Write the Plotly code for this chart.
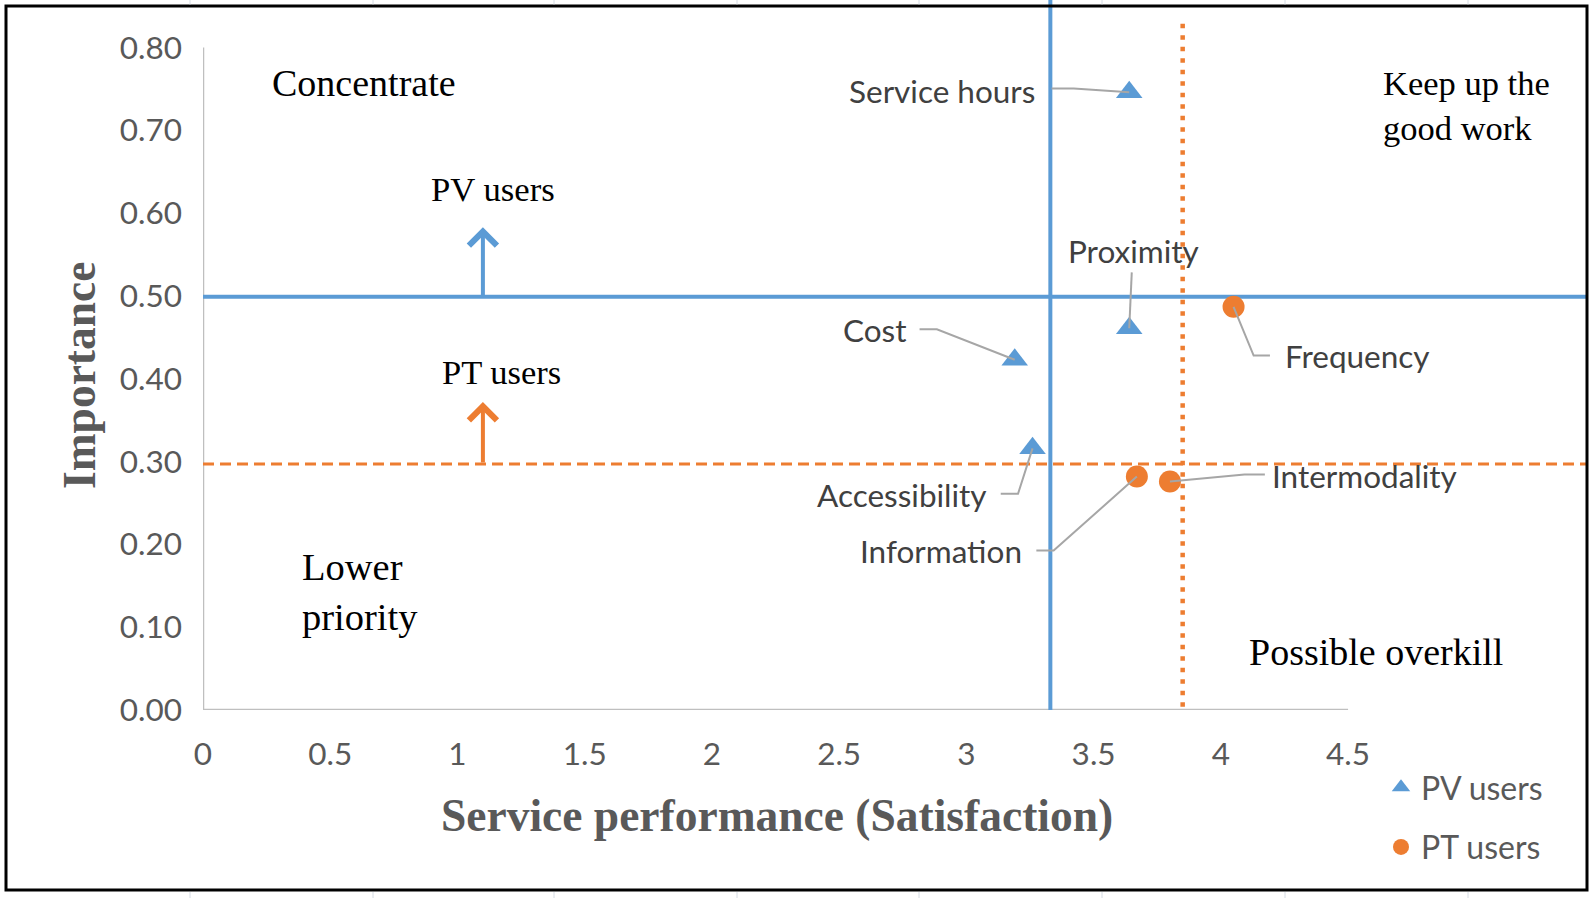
import plotly.graph_objects as go

# --- data ------------------------------------------------------------------
pv_items = ['Service hours', 'Proximity', 'Cost', 'Accessibility']
pv_satisfaction = [3.64, 3.64, 3.19, 3.26]
pv_importance = [0.746, 0.461, 0.423, 0.316]

pt_items = ['Frequency', 'Information', 'Intermodality']
pt_satisfaction = [4.05, 3.67, 3.80]
pt_importance = [0.487, 0.282, 0.276]

# mean lines splitting the quadrants
pv_mean_satisfaction = 3.33
pv_mean_importance = 0.499
pt_mean_satisfaction = 3.85
pt_mean_importance = 0.297

x_ticks = [0, 0.5, 1, 1.5, 2, 2.5, 3, 3.5, 4, 4.5]
x_tick_text = ['0', '0.5', '1', '1.5', '2', '2.5', '3', '3.5', '4', '4.5']
y_ticks = [0, 0.1, 0.2, 0.3, 0.4, 0.5, 0.6, 0.7, 0.8]
y_tick_text = ['0.00', '0.10', '0.20', '0.30', '0.40', '0.50', '0.60', '0.70', '0.80']

BLUE = '#5B9BD5'
ORANGE = '#ED7D31'
GREY_TXT = '#595959'
LEADER = '#A6A6A6'

# pixel layout of the page
W, H = 1593, 898
ML, MR, MT, MB = 203, 6, 0, 188
X_MAX = 5.439   # right frame edge in data units
Y_MAX = 0.8575  # top of page in data units

# label placement (data coords) and leader-line bends
label_pos = {
    'Service hours': (3.279, 0.748, 'right'),
    'Proximity': (3.658, 0.5545, 'center'),
    'Cost': (2.774, 0.4587, 'right'),
    'Accessibility': (3.089, 0.260, 'right'),
    'Information': (3.227, 0.1925, 'right'),
    'Intermodality': (4.193, 0.2832, 'left'),
    'Frequency': (4.245, 0.428, 'left'),
}
leader_bends = {
    'Service hours': [(3.335, 0.7507), (3.422, 0.7507)],
    'Proximity': [(3.650, 0.5286)],
    'Cost': [(2.816, 0.4599), (2.884, 0.4599)],
    'Accessibility': [(3.135, 0.2612), (3.203, 0.2612)],
    'Information': [(3.275, 0.1925), (3.343, 0.1925)],
    'Intermodality': [(4.173, 0.2845), (4.093, 0.2845)],
    'Frequency': [(4.193, 0.428), (4.129, 0.428)],
}


def px_x(p):
    return (p - ML) / (W - ML - MR)


def px_y(p):
    return (H - MB - p) / (H - MB - MT)


fig = go.Figure()

# quadrant lines
fig.add_trace(go.Scatter(x=[pv_mean_satisfaction, pv_mean_satisfaction], y=[0, Y_MAX],
                         mode='lines', line=dict(color=BLUE, width=4), showlegend=False, hoverinfo='skip'))
fig.add_trace(go.Scatter(x=[0, X_MAX], y=[pv_mean_importance, pv_mean_importance],
                         mode='lines', line=dict(color=BLUE, width=4), showlegend=False, hoverinfo='skip'))
fig.add_trace(go.Scatter(x=[0, X_MAX], y=[pt_mean_importance, pt_mean_importance],
                         mode='lines', line=dict(color=ORANGE, width=3, dash='11px,6px'),
                         showlegend=False, hoverinfo='skip'))
fig.add_trace(go.Scatter(x=[pt_mean_satisfaction, pt_mean_satisfaction], y=[-0.01, 0.833],
                         mode='lines', line=dict(color=ORANGE, width=4.5, dash='4.5px,7px'),
                         showlegend=False, hoverinfo='skip'))

# points
fig.add_trace(go.Scatter(x=pv_satisfaction, y=pv_importance, mode='markers', name='PV users',
                         marker=dict(symbol='triangle-up', size=23, color=BLUE),
                         legendgroup='pv'))
fig.add_trace(go.Scatter(x=pt_satisfaction, y=pt_importance, mode='markers', name='PT users',
                         marker=dict(symbol='circle', size=22, color=ORANGE),
                         legendgroup='pt'))

# leader lines from labels to points
all_points = dict(zip(pv_items, zip(pv_satisfaction, pv_importance)))
all_points.update(dict(zip(pt_items, zip(pt_satisfaction, pt_importance))))
for name, bends in leader_bends.items():
    px_, py_ = all_points[name]
    xs = [b[0] for b in bends] + [px_]
    ys = [b[1] for b in bends] + [py_]
    fig.add_trace(go.Scatter(x=xs, y=ys, mode='lines', line=dict(color=LEADER, width=2),
                             showlegend=False, hoverinfo='skip'))

annotations = []
for name, (lx, ly, anchor) in label_pos.items():
    annotations.append(dict(x=lx, y=ly, text=name, showarrow=False, xanchor=anchor, yanchor='middle',
                            font=dict(family='Lato', size=31.5, color='#404040')))

serif = 'Liberation Serif'
quad = [
    ('Concentrate', 0.632, 0.757, 'center', 38),
    ('Keep up the<br>good work', 4.628, 0.7305, 'left', 34.5),
    ('Lower<br>priority', 0.380, 0.143, 'left', 38.5),
    ('Possible overkill', 4.608, 0.0698, 'center', 38),
    ('PV users', 1.139, 0.629, 'center', 34.7),
    ('PT users', 1.175, 0.4085, 'center', 34.5),
]
for txt, qx, qy, anchor, size in quad:
    annotations.append(dict(x=qx, y=qy, text=txt, showarrow=False, xanchor=anchor, yanchor='middle',
                            align='left', font=dict(family=serif, size=size, color='black')))

# up arrows
annotations.append(dict(x=1.1, y=0.583, ax=1.1, ay=pv_mean_importance, axref='x', ayref='y',
                        showarrow=True, arrowhead=4, arrowsize=1.35, arrowwidth=4, arrowcolor=BLUE, text=''))
annotations.append(dict(x=1.1, y=0.372, ax=1.1, ay=pt_mean_importance, axref='x', ayref='y',
                        showarrow=True, arrowhead=4, arrowsize=1.35, arrowwidth=4, arrowcolor=ORANGE, text=''))

# axis titles
annotations.append(dict(x=px_x(79), y=px_y(376), xref='paper', yref='paper', text='<b>Importance</b>',
                        textangle=-90, showarrow=False, xanchor='center', yanchor='middle',
                        font=dict(family=serif, size=45.5, color=GREY_TXT)))
annotations.append(dict(x=px_x(777), y=px_y(815), xref='paper', yref='paper',
                        text='<b>Service performance (Satisfaction)</b>', showarrow=False,
                        xanchor='center', yanchor='middle', font=dict(family=serif, size=45.5, color=GREY_TXT)))

shapes = [
    dict(type='line', x0=0, x1=0, y0=0, y1=0.8, xref='x', yref='y', layer='below',
         line=dict(color='#BFBFBF', width=2.5)),
    dict(type='line', x0=0, x1=4.5, y0=0, y1=0, xref='x', yref='y', layer='below',
         line=dict(color='#BFBFBF', width=2.5)),
    dict(type='rect', x0=px_x(6), x1=px_x(1587), y0=px_y(890), y1=px_y(6), xref='paper', yref='paper',
         line=dict(color='black', width=3)),
]
# faint spreadsheet cell lines outside the frame
for gx in [190, 373, 554, 737, 919, 1102, 1285, 1468]:
    shapes.append(dict(type='line', x0=px_x(gx), x1=px_x(gx), y0=px_y(0), y1=px_y(4.5),
                       xref='paper', yref='paper', line=dict(color='#D6DCE4', width=1)))
    shapes.append(dict(type='line', x0=px_x(gx), x1=px_x(gx), y0=px_y(892), y1=px_y(898),
                       xref='paper', yref='paper', line=dict(color='#D6DCE4', width=1)))

fig.update_layout(
    width=W, height=H,
    margin=dict(l=ML, r=MR, t=MT, b=MB),
    paper_bgcolor='white', plot_bgcolor='white',
    xaxis=dict(range=[0, X_MAX], tickvals=x_ticks, ticktext=x_tick_text, showgrid=False, zeroline=False,
               showline=False, ticks='', ticklabelstandoff=22,
               tickfont=dict(family='Lato', size=31.5, color=GREY_TXT)),
    yaxis=dict(range=[0, Y_MAX], tickvals=y_ticks, ticktext=y_tick_text, showgrid=False, zeroline=False,
               showline=False, ticks='', ticklabelstandoff=20,
               tickfont=dict(family='Lato', size=31.5, color=GREY_TXT)),
    legend=dict(x=px_x(1381), y=px_y(760), xanchor='left', yanchor='top', tracegroupgap=15,
                font=dict(family='Lato', size=32, color=GREY_TXT), bgcolor='rgba(0,0,0,0)'),
    annotations=annotations,
    shapes=shapes,
    showlegend=True,
)

# the page's default body margin would push the figure 8px off the reference frame
fig.write_html('out.html', config={'displayModeBar': False},
               post_script="document.body.style.margin='0';")
